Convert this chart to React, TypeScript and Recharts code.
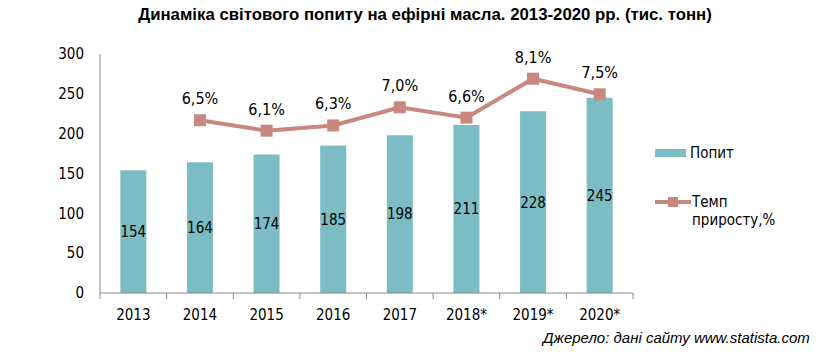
import React from "react";
import { ComposedChart, Bar, Line, XAxis, YAxis, LabelList } from "recharts";

const years = ["2013", "2014", "2015", "2016", "2017", "2018*", "2019*", "2020*"];
const demand = [154, 164, 174, 185, 198, 211, 228, 245];
const growth: (number | null)[] = [null, 6.5, 6.1, 6.3, 7.0, 6.6, 8.1, 7.5];
const yTicks = [0, 50, 100, 150, 200, 250, 300];
const seriesNames = ["Попит", "Темп приросту,%"];
const title = "Динаміка світового попиту на ефірні масла. 2013-2020 рр. (тис. тонн)";
const source = "Джерело: дані сайту www.statista.com";

const data = years.map((y, i) => ({ year: y, demand: demand[i], growth: growth[i] }));

const BAR = "#7bbcc5";
const LINE = "#c8877f";
const AXIS = "#868686";
const FONT = "'DejaVu Sans Condensed', 'DejaVu Sans', sans-serif";

const XTick = (props: any) => {
  const { x, y, payload, index } = props;
  const half = payload && payload.offset ? payload.offset : 33.3;
  return (
    <g>
      <line x1={x - half} x2={x - half} y1={y} y2={y + 6} stroke={AXIS} />
      {index === years.length - 1 && (
        <line x1={x + half} x2={x + half} y1={y} y2={y + 6} stroke={AXIS} />
      )}
      <text x={x} y={y + 27} textAnchor="middle" fontSize={15} fill="#000" fontFamily={FONT}>
        {payload.value}
      </text>
    </g>
  );
};

const Square = (props: any) => {
  const { cx, cy, value } = props;
  if (value == null || cx == null || cy == null) return null;
  return <rect x={cx - 6} y={cy - 6} width={12} height={12} fill={LINE} />;
};

const LegendBox = () => (
  <div
    style={{
      position: "absolute",
      left: 655,
      top: 144,
      width: 170,
      fontFamily: FONT,
      fontSize: 15,
      color: "#000",
      lineHeight: "18px",
    }}
  >
    <div style={{ display: "flex", alignItems: "center", height: 18 }}>
      <div style={{ width: 31, height: 8, background: BAR, marginRight: 4 }} />
      <span>{seriesNames[0]}</span>
    </div>
    <div style={{ display: "flex", alignItems: "flex-start", marginTop: 31 }}>
      <svg width={36} height={18} style={{ marginRight: 1, flexShrink: 0 }}>
        <line x1={0} x2={36} y1={9} y2={9} stroke={LINE} strokeWidth={4} />
        <rect x={13} y={4} width={10} height={10} fill={LINE} />
      </svg>
      <span style={{ width: 110 }}>{seriesNames[1]}</span>
    </div>
  </div>
);

export default function App() {
  return (
    <div style={{ position: "absolute", left: 0, top: 0, width: 835, height: 356, background: "#fff" }}>
      <div
        style={{
          position: "absolute",
          left: 0,
          top: 5,
          width: 850,
          textAlign: "center",
          fontFamily: "'Liberation Sans Narrow', 'Liberation Sans', Arial, sans-serif",
          fontWeight: "bold",
          fontSize: 16.8,
          color: "#000",
          zIndex: 2,
        }}
      >
        {title}
      </div>
      <ComposedChart
        width={835}
        height={356}
        data={data}
        margin={{ top: 54, right: 202, bottom: 33, left: 0 }}
        barCategoryGap="30.5%"
      >
        <XAxis
          dataKey="year"
          tick={<XTick />}
          tickLine={false}
          tickSize={0}
          tickMargin={0}
          axisLine={{ stroke: AXIS }}
          height={30}
          interval={0}
        />
        <YAxis
          yAxisId="left"
          domain={[0, 300]}
          ticks={yTicks}
          width={100}
          tickLine={false}
          tickSize={6}
          tickMargin={10}
          axisLine={{ stroke: AXIS }}
          tick={{ fontSize: 15, fill: "#000", fontFamily: FONT }}
          interval={0}
        />
        <YAxis yAxisId="right" orientation="right" hide domain={[-0.15, 9.05]} />
        <Bar yAxisId="left" dataKey="demand" name={seriesNames[0]} fill={BAR} isAnimationActive={false}>
          <LabelList dataKey="demand" position="center" fontSize={15} fill="#000" fontFamily={FONT} />
        </Bar>
        <Line
          yAxisId="right"
          dataKey="growth"
          name={seriesNames[1]}
          stroke={LINE}
          strokeWidth={4}
          dot={<Square />}
          activeDot={false}
          connectNulls={false}
          isAnimationActive={false}
        >
          <LabelList
            dataKey="growth"
            position="top"
            offset={16}
            fontSize={16}
            fill="#000"
            fontFamily={FONT}
            formatter={(v: any) => (v == null ? "" : v.toFixed(1).replace(".", ",") + "%")}
          />
        </Line>
      </ComposedChart>
      <LegendBox />
      <div
        style={{
          position: "absolute",
          left: 543,
          top: 329,
          fontFamily: "'Liberation Sans', Arial, sans-serif",
          fontStyle: "italic",
          fontSize: 15,
          color: "#000",
        }}
      >
        {source}
      </div>
    </div>
  );
}
